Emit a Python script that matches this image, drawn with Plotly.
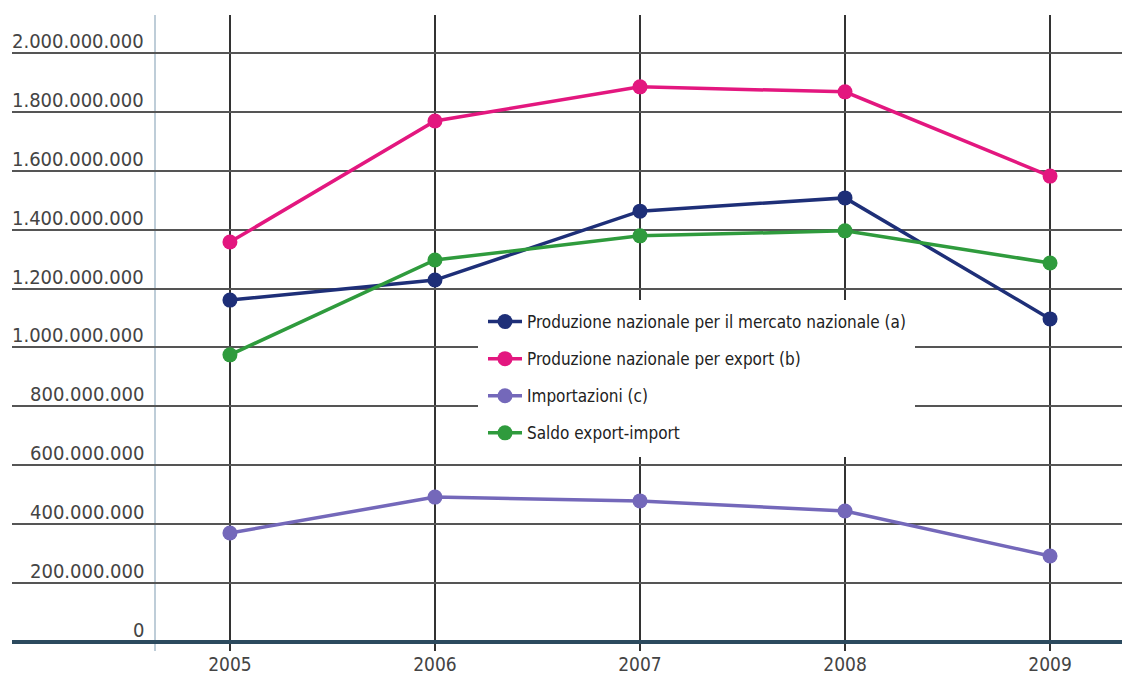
import plotly.graph_objects as go

# Anni e valori (euro)
anni = [2005, 2006, 2007, 2008, 2009]
mercato_nazionale = [1161000000, 1229000000, 1463000000, 1508000000, 1097000000]
export = [1358000000, 1769000000, 1885000000, 1868000000, 1582000000]
importazioni = [370000000, 492000000, 479000000, 445000000, 292000000]
saldo = [975000000, 1297000000, 1379000000, 1396000000, 1287000000]

serie_nomi = [
    "Produzione nazionale per il mercato nazionale (a)",
    "Produzione nazionale per export (b)",
    "Importazioni (c)",
    "Saldo export-import",
]
serie_valori = [mercato_nazionale, export, importazioni, saldo]
serie_colori = ["#1e2f78", "#e3177f", "#7468ba", "#2f9b3d"]

y_ticks = [0, 200000000, 400000000, 600000000, 800000000, 1000000000,
           1200000000, 1400000000, 1600000000, 1800000000, 2000000000]

FONT = "Liberation Sans Narrow, DejaVu Sans Condensed, Arial Narrow, sans-serif"

# plot area in pixels: left 12, right 1122, top 15, bottom 651
W, H = 1122, 677
L, R, T, B = 12, 0, 15, 26
PW, PH = W - L - R, H - T - B

def px_x(p):
    return (p - L) / PW

def px_y(p):
    return (H - B - p) / PH

fig = go.Figure()
for i, (nome, valori, colore) in enumerate(zip(serie_nomi, serie_valori, serie_colori)):
    fig.add_trace(go.Scatter(
        x=anni, y=valori, name=nome, mode="lines+markers",
        legendgroup=f"g{i}",
        line=dict(color=colore, width=3.5),
        marker=dict(color=colore, size=15),
    ))

def etichetta(v):
    return f"{v:,}".replace(",", ".")

annotations = [
    dict(x=px_x(146), xref="paper", y=v, yref="y", text=etichetta(v),
         xanchor="right", yanchor="bottom", showarrow=False, yshift=-2,
         font=dict(family=FONT, size=20, color="#444444"))
    for v in y_ticks
]

shapes = [
    # light vertical axis line
    dict(type="line", xref="paper", yref="paper", x0=px_x(155), x1=px_x(155),
         y0=0, y1=1, line=dict(color="#a9bccb", width=1.5), layer="below"),
    # white panel behind the legend
    dict(type="rect", xref="paper", yref="paper",
         x0=px_x(478), x1=px_x(915), y0=px_y(457), y1=px_y(300),
         fillcolor="white", line=dict(width=0), layer="above"),
]

fig.update_layout(
    width=W, height=H,
    margin=dict(l=L, r=R, t=T, b=B, autoexpand=False),
    paper_bgcolor="white", plot_bgcolor="white",
    showlegend=True,
    legend=dict(
        x=px_x(483), y=px_y(304), xanchor="left", yanchor="top",
        bgcolor="rgba(255,255,255,0)", borderwidth=0,
        font=dict(family=FONT, size=17, color="#222222"),
        traceorder="grouped", tracegroupgap=12,
        itemwidth=34,
    ),
    annotations=annotations,
    shapes=shapes,
)

fig.update_xaxes(
    range=[2003.937, 2009.351],
    tickvals=anni, ticktext=[str(a) for a in anni],
    showgrid=True, gridcolor="#333333", gridwidth=1.5,
    zeroline=False, showline=False, ticks="",
    automargin=False, ticklabelstandoff=0,
    tickfont=dict(family=FONT, size=19, color="#444444"),
)
fig.update_yaxes(
    range=[-30600000, 2129000000],
    tickvals=y_ticks, showticklabels=False,
    showgrid=True, gridcolor="#555555", gridwidth=2,
    zeroline=True, zerolinecolor="#2c4a5e", zerolinewidth=3.5,
    showline=False, ticks="", automargin=False,
)

fig.write_html("out.html")
